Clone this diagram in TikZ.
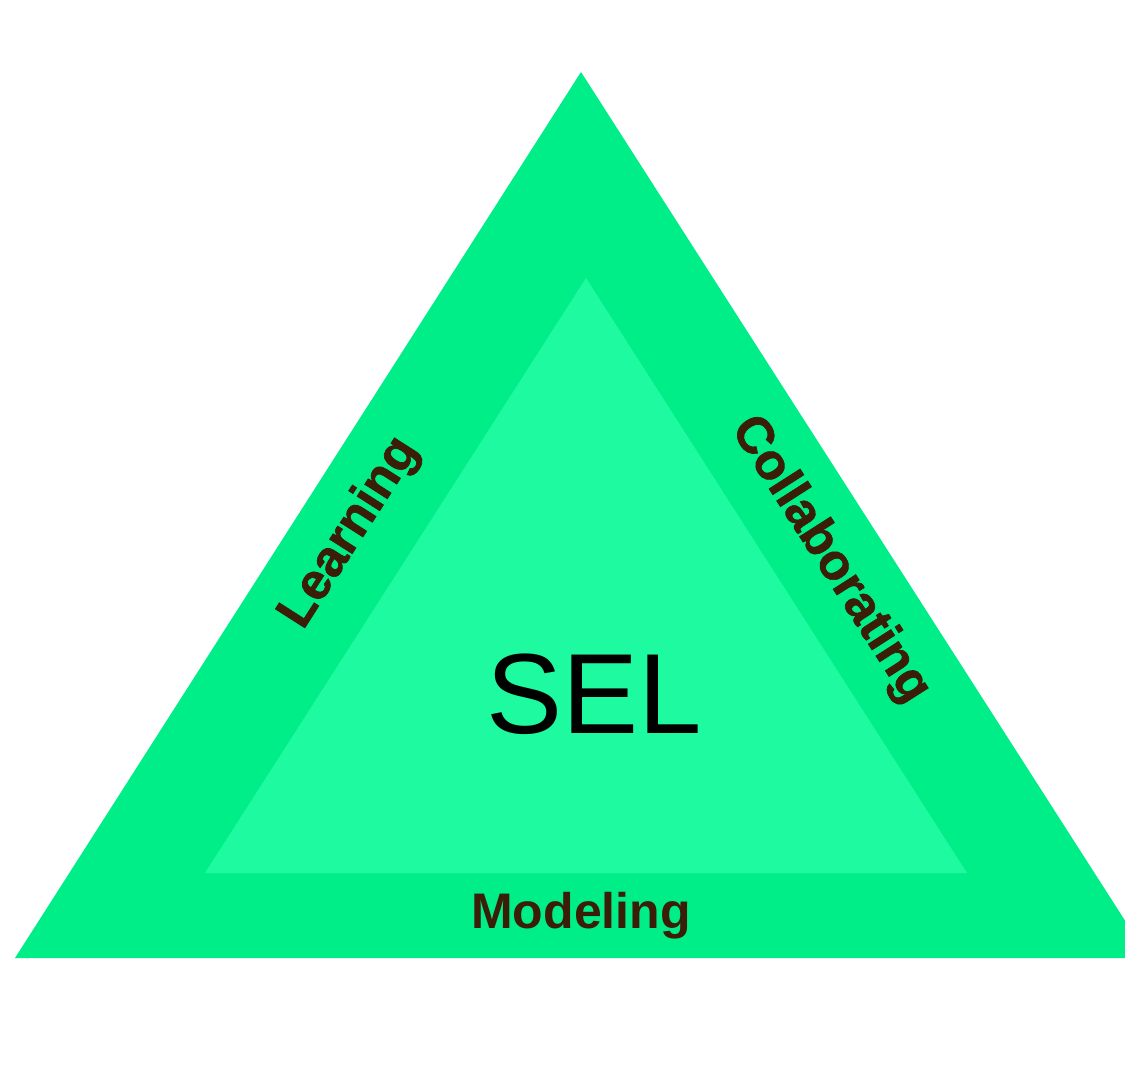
\documentclass[tikz,border=0pt]{standalone}
\usepackage{fontspec}
\setmainfont{Liberation Sans}
\newfontfamily\rotfont[FakeBold=1.2]{Liberation Sans Bold}
\definecolor{outerg}{RGB}{0,238,136}
\definecolor{innerg}{RGB}{30,250,160}
\definecolor{labelbrown}{RGB}{59,30,8}
\begin{document}
\begin{tikzpicture}[x=1pt,y=-1pt,
  sidelabel/.style={font=\fontsize{50}{50}\selectfont\bfseries, text=labelbrown, inner sep=0pt},
  rotlabel/.style={font=\rotfont\fontsize{51}{51}\selectfont, text=labelbrown, inner sep=0pt},
  title/.style={font=\fontsize{114}{114}\selectfont, text=black, inner sep=0pt}]
\useasboundingbox (0,0) rectangle (1125,1073);
\fill[white] (0,0) rectangle (1125,1073);
\begin{scope}
\clip (0,0) rectangle (1125,1073);
\fill[outerg] (581,72) -- (15,958) -- (1149,958) -- cycle;
\end{scope}
\fill[innerg] (586,278) -- (205,873) -- (967,873) -- cycle;
\node[title, anchor=base] (sel) at (594,733) {SEL};
\node[sidelabel, anchor=base] (modeling) at (581,928) {Modeling};
\node[rotlabel, rotate=57.4] (learning) at (350,533) {Learning};
\node[rotlabel, rotate=-57.4] (collab) at (830,560) {Collaborating};
\end{tikzpicture}
\end{document}
